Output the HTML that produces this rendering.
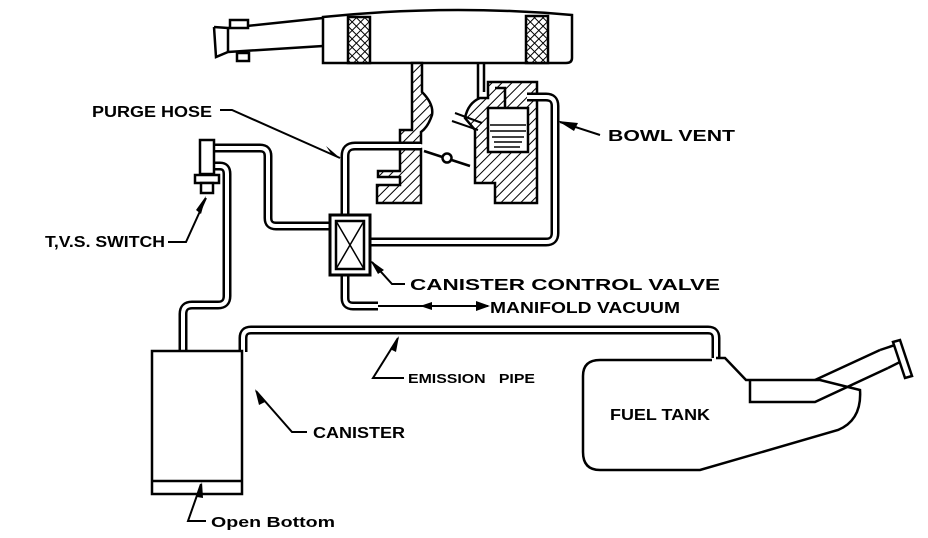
<!DOCTYPE html>
<html><head><meta charset="utf-8"><style>
html,body{margin:0;padding:0;background:#fff;}
svg{display:block;}
text{font-family:"Liberation Sans",sans-serif;font-weight:bold;fill:#000;}
</style></head><body>
<svg width="928" height="538" viewBox="0 0 928 538" xmlns="http://www.w3.org/2000/svg">
<defs>
<pattern id="h" width="7" height="7" patternUnits="userSpaceOnUse" patternTransform="rotate(45)">
<rect width="7" height="7" fill="#fff"/><line x1="0" y1="0" x2="0" y2="7" stroke="#000" stroke-width="2"/></pattern>
<pattern id="x" width="6" height="6" patternUnits="userSpaceOnUse" patternTransform="rotate(45)">
<rect width="6" height="6" fill="#fff"/><path d="M0 0V6M0 0H6" stroke="#000" stroke-width="2"/></pattern>
</defs>
<g fill="none" stroke="#000" stroke-width="2.5">
<path d="M214 27 L228 28 L323 18 M214 27 L216 57 L228 52 L323 46" fill="#fff"/>
<path d="M228 28 L228 52"/>
<rect x="230" y="20" width="18" height="8" fill="#fff"/>
<rect x="237" y="53" width="12" height="8" fill="#fff"/>
<path d="M323 17 Q448 4 572 15 L572 58 Q572 63 566 63 L323 63 Z" fill="#fff"/>
<rect x="348" y="17" width="22" height="46" fill="url(#x)"/>
<rect x="526" y="16" width="22" height="47" fill="url(#x)"/>
<path d="M412 63 L422 63 L422 92 Q434 104 432 115 Q428 127 421 132 L421 143 L400 143 L400 130 L412 130 Z" fill="url(#h)"/>
<path d="M400 149 L421 149 L421 203 L377 203 L377 185 L400 185 L400 177 L378 177 L378 171 L400 171 Z" fill="url(#h)"/>
<path d="M488 82 L537 82 L537 203 L495 203 L495 183 L475 183 L475 130 L465 118 Q468 103 480 98 L488 98 Z" fill="url(#h)"/>
<path d="M488 108 L528 108 L528 152 L488 152 Z" fill="#fff"/>
<path d="M495 88 L505 88 L505 108 M478 63 L478 98 M484 63 L484 92"/>
<path d="M490 125 H526 M490 131 H526 M492 137 H524 M494 142 H522 M494 147 H520" stroke-width="1.5"/>
<path d="M455 113 L482 123 M452 121 L478 130" stroke-width="2"/>
<path d="M424 151 L470 166"/>
<circle cx="447" cy="158" r="4.5" fill="#fff"/>
</g>
<g fill="none" stroke-linejoin="round" stroke-linecap="butt">
<g stroke="#000" stroke-width="9">
<path d="M421 146 H355 Q345 146 345 156 V218"/>
<path d="M214 148 H260 Q268 148 268 156 V218 Q268 226 276 226 H333"/>
<path d="M214 166 H220 Q227 166 227 174 V296 Q227 305 218 305 H192 Q183 305 183 314 V352"/>
<path d="M527 97 H546 Q555 97 555 106 V233 Q555 242 546 242 H368"/>
<path d="M345 275 V298 Q345 306 353 306 H378"/>
<path d="M243 352 V338 Q243 330 251 330 H708 Q716 330 716 338 V358"/>
</g>
<g stroke="#fff" stroke-width="4">
<path d="M421 146 H355 Q345 146 345 156 V218"/>
<path d="M214 148 H260 Q268 148 268 156 V218 Q268 226 276 226 H333"/>
<path d="M214 166 H220 Q227 166 227 174 V296 Q227 305 218 305 H192 Q183 305 183 314 V352"/>
<path d="M527 97 H546 Q555 97 555 106 V233 Q555 242 546 242 H368"/>
<path d="M345 275 V298 Q345 306 353 306 H378"/>
<path d="M243 354 V338 Q243 330 251 330 H708 Q716 330 716 338 V360"/>
</g>
</g>
<g fill="none" stroke="#000" stroke-width="2.5">
<rect x="200" y="140" width="14" height="34" fill="#fff"/>
<rect x="195" y="175" width="24" height="8" fill="#fff"/>
<rect x="201" y="183" width="12" height="10" fill="#fff"/>
<rect x="330" y="215" width="40" height="60" fill="#fff" stroke-width="3"/>
<rect x="336" y="221" width="28" height="48"/>
<path d="M336 221 L364 269 M364 221 L336 269" stroke-width="1.5"/>
<rect x="152" y="351" width="90" height="143" fill="#fff"/>
<path d="M152 481 H242"/>
<path d="M716 358 L725 358 L746 380 L820 380 L860 390 Q862 420 838 430 L700 470 L600 470 Q583 470 583 452 L583 376 Q583 360 600 360 L712 360"/>
<path d="M750 380 L750 402 L815 402 L888 368 M815 380 L880 350"/>
<path d="M880 350 L895 345 L900 362 L888 368" fill="#fff"/>
<path d="M893 342 L900 340 L912 376 L905 378 Z" fill="#fff"/>
</g>
<g fill="none" stroke="#000" stroke-width="2">
<path d="M220 110 H232 L340 158"/>
<path d="M600 135 L560 122"/>
<path d="M168 242 H186 L206 198"/>
<path d="M405 284 H392 L372 262"/>
<path d="M378 306 H488"/>
<path d="M404 378 H373 L398 338"/>
<path d="M307 432 H292 L256 391"/>
<path d="M206 521 H188 L201 484"/>
</g>
<g fill="#000">
<path d="M340 158 L326 146 L332 155 Z"/>
<path d="M558 121 L578 123 L574 131 Z"/>
<path d="M206 196 L201 214 L196 210 Z"/>
<path d="M370 260 L384 270 L378 274 Z"/>
<path d="M490 306 L476 301 L476 311 Z"/>
<path d="M420 306 L432 302 L432 310 Z"/>
<path d="M399 336 L396 352 L390 349 Z"/>
<path d="M255 389 L265 402 L259 405 Z"/>
<path d="M202 482 L203 498 L197 497 Z"/>
</g>
<g font-size="16">
<text x="92" y="117" textLength="120" lengthAdjust="spacingAndGlyphs">PURGE HOSE</text>
<text x="608" y="141" textLength="127" lengthAdjust="spacingAndGlyphs">BOWL VENT</text>
<text x="45" y="247" textLength="120" lengthAdjust="spacingAndGlyphs">T,V.S. SWITCH</text>
<text x="410" y="290" textLength="310" lengthAdjust="spacingAndGlyphs">CANISTER CONTROL VALVE</text>
<text x="490" y="313" textLength="190" lengthAdjust="spacingAndGlyphs">MANIFOLD VACUUM</text>
<text x="408" y="383" font-size="13" textLength="127" lengthAdjust="spacingAndGlyphs">EMISSION&#160;&#160;&#160;PIPE</text>
<text x="313" y="438" textLength="92" lengthAdjust="spacingAndGlyphs">CANISTER</text>
<text x="610" y="420" textLength="100" lengthAdjust="spacingAndGlyphs">FUEL TANK</text>
<text x="211" y="527" font-size="15" textLength="124" lengthAdjust="spacingAndGlyphs">Open Bottom</text>
</g>
</svg>
</body></html>
